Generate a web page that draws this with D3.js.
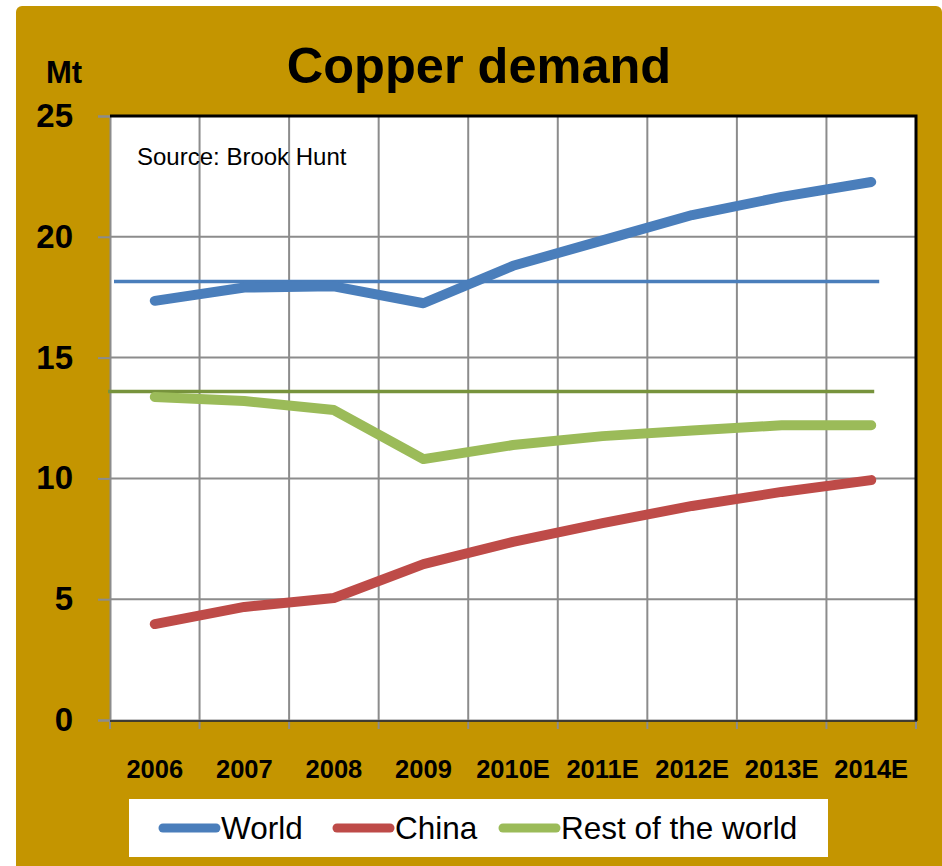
<!DOCTYPE html>
<html>
<head>
<meta charset="utf-8">
<script src="https://cdn.jsdelivr.net/npm/d3@7"></script>
<style>
  body { margin: 0; background: #fff; }
  svg text { font-family: "Liberation Sans", Arial, sans-serif; }
</style>
</head>
<body>
<div id="chart-container"></div>
<script>
// values, Mt
const years = ["2006", "2007", "2008", "2009", "2010E", "2011E", "2012E", "2013E", "2014E"];
const world = [17.35, 17.9, 17.95, 17.25, 18.8, 19.85, 20.9, 21.65, 22.27];
const china = [3.97, 4.68, 5.05, 6.45, 7.37, 8.15, 8.86, 9.44, 9.93];
const restOfWorld = [13.37, 13.2, 12.83, 10.8, 11.38, 11.75, 11.98, 12.2, 12.2];
const yTicks = [0, 5, 10, 15, 20, 25];
const worldLevel = 18.15;
const restLevel = 13.6;

const seriesNames = ["World", "China", "Rest of the world"];
const seriesColors = ["#4a7ebb", "#be4b48", "#9bbb59"];

const width = 942, height = 866;
const plot = { left: 110, top: 116, right: 916, bottom: 720 };

const svg = d3.select("#chart-container").append("svg")
  .attr("width", width).attr("height", height);

svg.append("rect").attr("x", 16).attr("y", 6).attr("width", width - 16).attr("height", height)
  .attr("rx", 6).attr("fill", "#c49500");

svg.append("text").text("Copper demand")
  .attr("x", 479).attr("y", 83).attr("text-anchor", "middle")
  .attr("font-size", 50.5).attr("font-weight", "bold");

svg.append("text").text("Mt")
  .attr("x", 64).attr("y", 83).attr("text-anchor", "middle")
  .attr("font-size", 31).attr("font-weight", "bold");

let x = d3.scaleBand().domain(years).range([plot.left, plot.right]);
let y = d3.scaleLinear().domain([0, 25]).range([plot.bottom, plot.top]);
let cx = d => x(d) + x.bandwidth() / 2;

svg.append("rect").attr("x", plot.left).attr("y", plot.top)
  .attr("width", plot.right - plot.left).attr("height", plot.bottom - plot.top)
  .attr("fill", "#fff");

// grid
let grid = svg.append("g").attr("stroke", "#8c8c8c").attr("stroke-width", 2);
grid.selectAll(".hg").data(yTicks.slice(1, -1)).enter().append("line")
  .attr("x1", plot.left).attr("x2", plot.right)
  .attr("y1", d => y(d)).attr("y2", d => y(d));
grid.selectAll(".vg").data(years.slice(1)).enter().append("line")
  .attr("x1", d => x(d)).attr("x2", d => x(d))
  .attr("y1", plot.top).attr("y2", plot.bottom);

// axes
let yAxis = d3.axisLeft(y).tickValues(yTicks).tickSize(12).tickPadding(25).tickFormat(d3.format("d"));
let gy = svg.append("g").attr("transform", `translate(${plot.left},0)`).call(yAxis);
gy.select(".domain").attr("stroke", "#8c8c8c").attr("stroke-width", 2);
gy.selectAll(".tick line").attr("stroke", "#8c8c8c").attr("stroke-width", 2);
gy.selectAll(".tick text").attr("font-size", 33).attr("font-weight", "bold")
  .attr("font-family", "Liberation Sans, Arial, sans-serif").attr("fill", "#000");

let xAxis = d3.axisBottom(x).tickSize(0).tickPadding(40);
let gx = svg.append("g").attr("transform", `translate(0,${plot.bottom})`).call(xAxis);
gx.select(".domain").attr("stroke", "#8c8c8c").attr("stroke-width", 2);
gx.selectAll(".tick text").attr("font-size", 25.5).attr("font-weight", "bold")
  .attr("font-family", "Liberation Sans, Arial, sans-serif").attr("fill", "#000");
svg.append("g").attr("stroke", "#8c8c8c").attr("stroke-width", 2)
  .selectAll("line").data(years.concat(["end"])).enter().append("line")
  .attr("x1", (d, i) => plot.left + i * x.step()).attr("x2", (d, i) => plot.left + i * x.step())
  .attr("y1", plot.bottom).attr("y2", plot.bottom + 9);

// plot frame
svg.append("path")
  .attr("d", `M${plot.left},${plot.top}H${plot.right}V${plot.bottom + 1}`)
  .attr("fill", "none").attr("stroke", "#000").attr("stroke-width", 3);
svg.append("line").attr("x1", plot.left).attr("x2", plot.right + 1)
  .attr("y1", plot.bottom + 1).attr("y2", plot.bottom + 1)
  .attr("stroke", "#222").attr("stroke-width", 1.5);

svg.append("text").text("Source: Brook Hunt")
  .attr("x", 137).attr("y", 165).attr("font-size", 24);

// level lines
let levelEnd = cx(years[years.length - 1]);
svg.append("line").attr("x1", plot.left + 4).attr("x2", levelEnd + 8)
  .attr("y1", y(worldLevel)).attr("y2", y(worldLevel))
  .attr("stroke", "#4a7ebb").attr("stroke-width", 3.5);
svg.append("line").attr("x1", plot.left - 2).attr("x2", levelEnd + 3)
  .attr("y1", y(restLevel)).attr("y2", y(restLevel))
  .attr("stroke", "#77933c").attr("stroke-width", 3.5);

// series
let line = d3.line().x((d, i) => cx(years[i])).y(d => y(d));
[world, china, restOfWorld].forEach((values, k) => {
  svg.append("path").datum(values).attr("d", line)
    .attr("fill", "none").attr("stroke", seriesColors[k]).attr("stroke-width", 10)
    .attr("stroke-linecap", "round").attr("stroke-linejoin", "round");
});

// legend
svg.append("rect").attr("x", 129).attr("y", 799).attr("width", 699).attr("height", 58).attr("fill", "#fff");
let legendX = [163, 337, 503];
let legend = svg.selectAll(".legend").data(seriesNames).enter().append("g")
  .attr("transform", (d, i) => `translate(${legendX[i]},828)`);
legend.append("line").attr("x1", 0).attr("x2", 53).attr("y1", 0).attr("y2", 0)
  .attr("stroke", (d, i) => seriesColors[i]).attr("stroke-width", 9).attr("stroke-linecap", "round");
legend.append("text").text(d => d).attr("x", 58).attr("y", 11).attr("font-size", 31.5);
</script>
</body>
</html>
